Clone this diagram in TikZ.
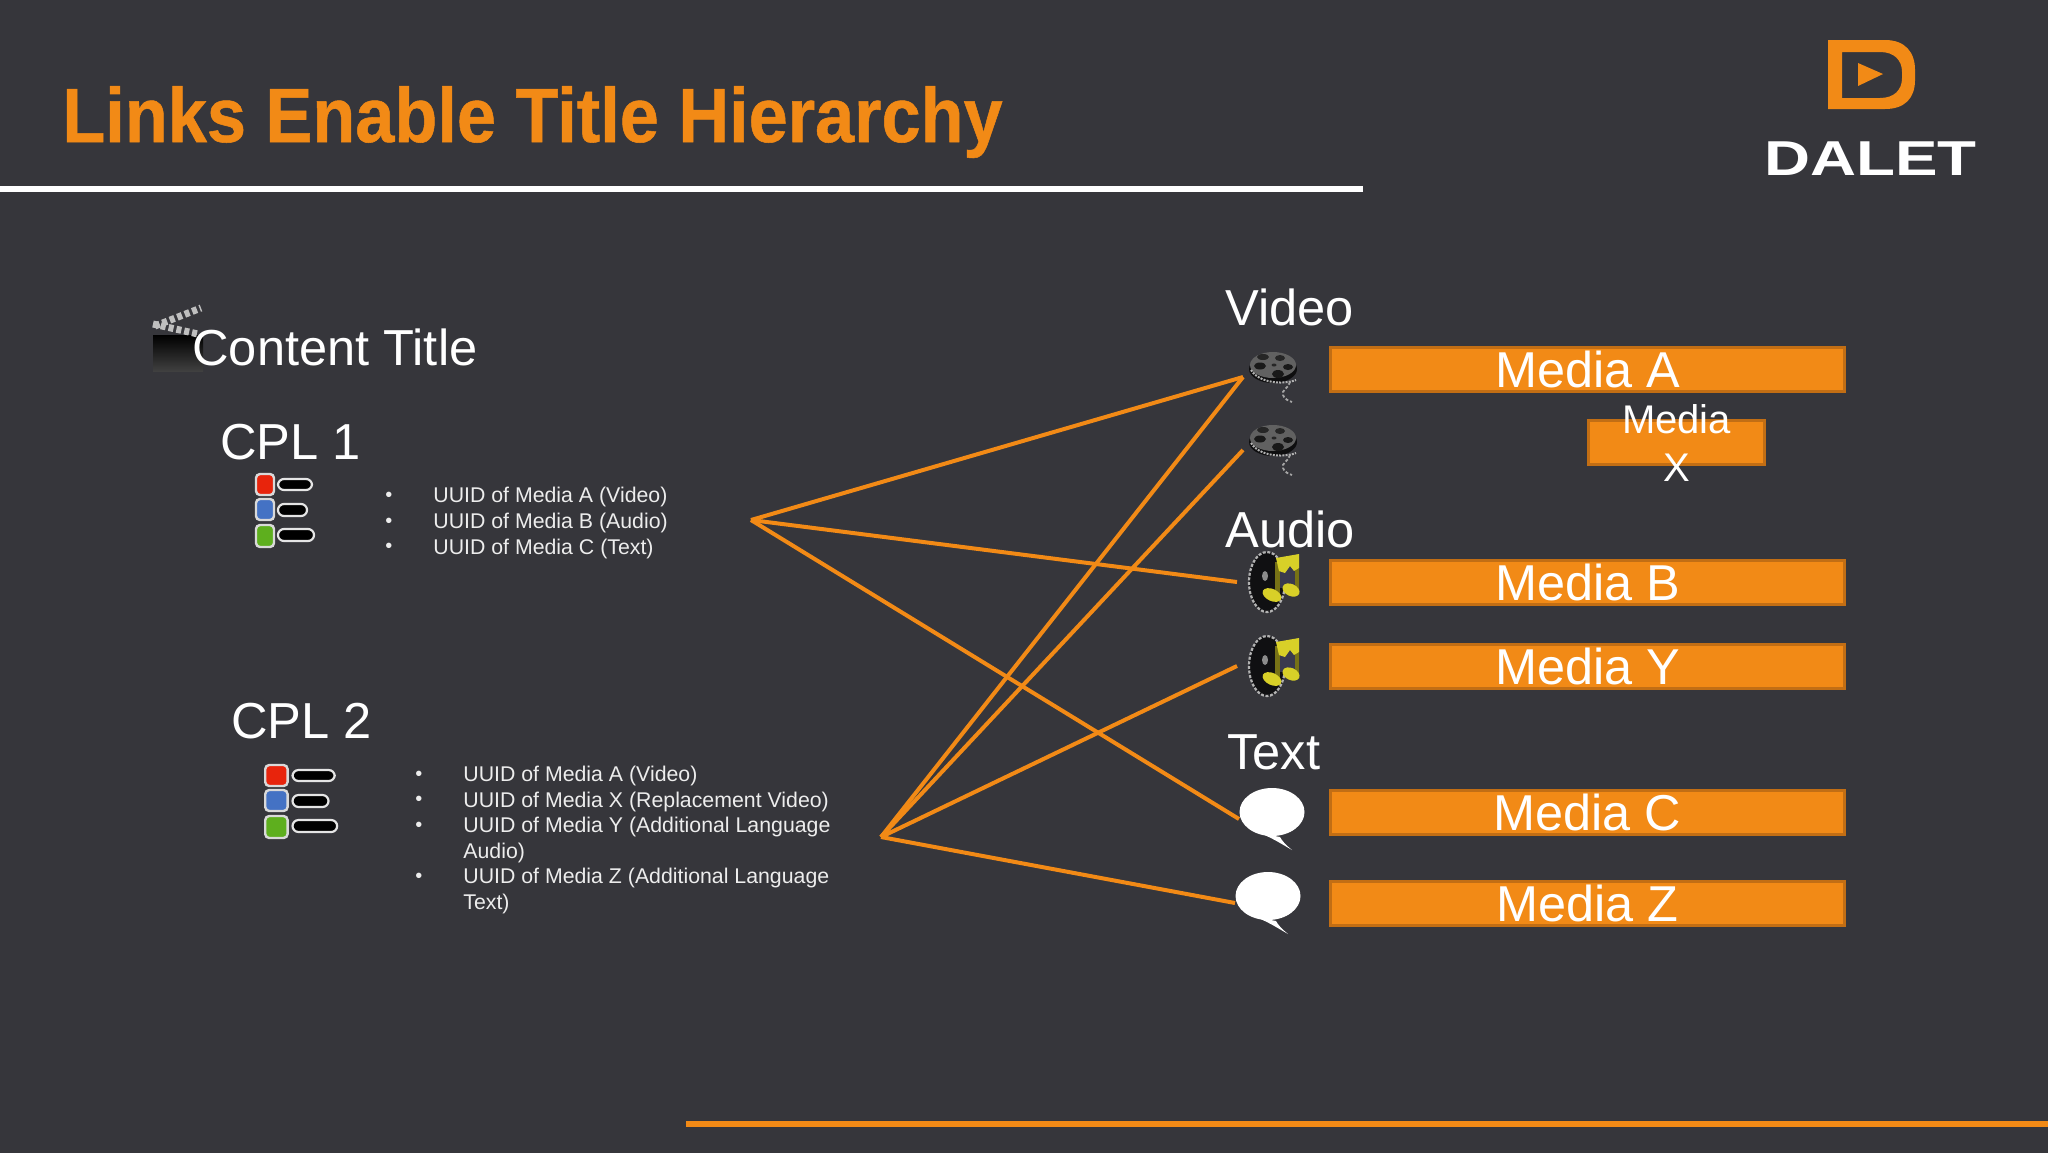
\documentclass[tikz,border=0pt]{standalone}
\usepackage{fontspec}
\setmainfont{Liberation Sans}
\newfontfamily\titlefont[FakeBold=0.7]{Liberation Sans Bold}
\usetikzlibrary{arrows.meta,positioning,shapes.geometric}
\definecolor{slidebg}{HTML}{36363B}
\definecolor{dalet}{HTML}{F28A16}
\definecolor{daletedge}{HTML}{C26E14}
\definecolor{noteyellow}{HTML}{D8D028}
\definecolor{noteink}{HTML}{3A3A4E}
\definecolor{listred}{HTML}{E8240C}
\definecolor{listblue}{HTML}{4472C4}
\definecolor{listgreen}{HTML}{5EAF1E}
\newcommand{\uuiditem}[1]{\makebox[24pt][l]{\raisebox{.6pt}{\fontsize{10}{10}\selectfont •}}#1}
\newcommand{\uuidmore}[1]{\makebox[24pt][l]{}#1}
\tikzset{
  mediabox/.style={rectangle, draw=daletedge, fill=dalet, line width=1.5pt, inner sep=0pt, outer sep=0pt, minimum width=257pt, minimum height=22pt},
  xbox/.style={mediabox, minimum width=88pt},
  medialabel/.style={text=white, align=center, inner sep=0pt, font=\fontsize{25.2}{25.2}\selectfont},
  xlabel/.style={text=white, align=center, inner sep=0pt, font=\fontsize{20}{24}\selectfont},
  heading/.style={anchor=base west, text=white, inner sep=0pt, font=\fontsize{25.3}{25.3}\selectfont},
  uuidlist/.style={anchor=west, text=white!93!black, align=left, inner sep=0pt, font=\fontsize{10.65}{12.8}\selectfont},
  iconbox/.style={rectangle, inner sep=0pt, outer sep=0pt, minimum height=10pt},
  link/.style={draw=dalet, line width=2pt},
  filmreel/.pic={
    \fill[black!75!slidebg] (2,-8) ellipse [x radius=24, y radius=14];
    \fill[black!62] (2,-12) ellipse [x radius=23, y radius=13];
    \draw[white!70!black, line width=1pt, dash pattern=on 1pt off .6pt] (-20,-7) .. controls (-12,6) and (12,8) .. (25,3);
    \fill[black!85] (-8,-20) ellipse [x radius=6, y radius=3];
    \fill[black!85] (9,-19) ellipse [x radius=5, y radius=3];
    \fill[black!90] (-11,-11) ellipse [x radius=6, y radius=3.5];
    \fill[black!90] (17,-10) ellipse [x radius=5, y radius=3];
    \fill[black!90] (7,-3) ellipse [x radius=6, y radius=4];
    \fill[black!85] (3,-12) ellipse [x radius=2.5, y radius=1.5];
    \draw[white!65!black, line width=.9pt, dash pattern=on 1.5pt off 1pt] (19,5) .. controls (18,11) and (10,13) .. (12,18) .. controls (13,22) and (18,24) .. (21,25);
  },
  musicnote/.pic={
    \draw[black!30, fill=black!70!slidebg, line width=1.1pt, dash pattern=on 1.5pt off .8pt] (-6,0) ellipse [x radius=18, y radius=30];
    \fill[black!45] (-8,-6) ellipse [x radius=3, y radius=5];
    \fill[noteink] (6,-18) rectangle (23,6);
    \fill[noteyellow!55!black] (2,-20) rectangle (7,14);
    \fill[noteyellow!55!black] (22,-20) rectangle (26,8);
    \fill[noteyellow] (3,-24) -- (26,-28) -- (26,-14) -- (21,-11) -- (17,-16) -- (12,-9) -- (6,-11) -- cycle;
    \fill[noteyellow, rotate around={-25:(-1,13)}] (-1,13) ellipse [x radius=10, y radius=6];
    \fill[noteyellow, rotate around={-25:(18,8)}] (18,8) ellipse [x radius=9, y radius=6];
  },
  speechballoon/.pic={
    \fill[white] (-12,14) .. controls (2,20) and (8,24) .. (20,31) .. controls (14,26) and (10,22) .. (8,18) -- cycle;
    \fill[white] (0,-7) ellipse [x radius=32.5, y radius=24];
  },
  cplicon/.pic={
    \draw[white!90!black, fill=black, rounded corners=3pt, line width=1.1pt] (23,6) rectangle (57,17);
    \draw[white!90!black, fill=black, rounded corners=3pt, line width=1.1pt] (23,31) rectangle (52,43);
    \draw[white!90!black, fill=black, rounded corners=3pt, line width=1.1pt] (23,56) rectangle (59,68);
    \draw[white!85!black, fill=listred, rounded corners=2pt, line width=1.2pt] (1,1) rectangle (19,22);
    \draw[white!85!black, fill=listblue, rounded corners=2pt, line width=1.2pt] (1,26) rectangle (19,47);
    \draw[white!85!black, fill=listgreen, rounded corners=2pt, line width=1.2pt] (1,52) rectangle (19,74);
  }
}
\begin{document}
\begin{tikzpicture}[x=0.5pt, y=-0.5pt]
  \useasboundingbox (0,0) rectangle (2048,1152);
  \fill[slidebg] (-5,-5) rectangle (2053,1157);
  \node[anchor=base west, text=dalet, inner sep=0pt, xscale=.913, transform shape, font=\fontsize{38.5}{38.5}\titlefont] (slidetitle) at (62,142) {Links Enable Title Hierarchy};
  \fill[white] (0,186) rectangle (1363,192);
  \fill[dalet] (686,1120.5) rectangle (2053,1126.5);
  % logo
  \fill[dalet, even odd rule] (1828,40) -- (1885,40) .. controls (1905,40) and (1915,52) .. (1915,70) -- (1915,80) .. controls (1915,98) and (1905,109) .. (1885,109) -- (1828,109) -- cycle
    (1842,52) -- (1880,52) .. controls (1894,52) and (1902,60) .. (1902,72) -- (1902,78) .. controls (1902,90) and (1894,98) .. (1880,98) -- (1842,98) -- cycle;
  \fill[dalet] (1858,63) -- (1883,74) -- (1858,86) -- cycle;
  \node[text=white, inner sep=0pt, xscale=1.3, transform shape, font=\fontsize{24.5}{24.5}\selectfont\bfseries] (daletname) at (1870.5,158.5) {DALET};
  % left side
  \shade[top color=black, bottom color=black!75] (153,335) rectangle (203,371);
  \draw[white!75!black, line width=3.5pt, dash pattern=on 2.5pt off 1.5pt] (155,326) -- (201,308);
  \draw[white!75!black, line width=3.5pt, dash pattern=on 2.5pt off 1.5pt] (153,324) -- (198,334);
  \node[heading] (contenttitle) at (192,365) {Content Title};
  \node[heading] (cplone) at (220,459) {CPL 1};
  \node[heading] (cpltwo) at (231,738) {CPL 2};
  \pic at (255,473) {cplicon};
  \pic[xscale=1.24] at (264,764) {cplicon};
  \node[uuidlist] (listone) at (385,523) {\uuiditem{UUID of Media A (Video)}\\\uuiditem{UUID of Media B (Audio)}\\\uuiditem{UUID of Media C (Text)}};
  \node[uuidlist] (listtwo) at (415,840) {\uuiditem{UUID of Media A (Video)}\\\uuiditem{UUID of Media X (Replacement Video)}\\\uuiditem{UUID of Media Y (Additional Language}\\\uuidmore{Audio)}\\\uuiditem{UUID of Media Z (Additional Language}\\\uuidmore{Text)}};
  \coordinate (linkone) at (751,520);
  \coordinate (linktwo) at (881,837);
  % right side
  \node[heading] (videohead) at (1225,325) {Video};
  \node[heading] (audiohead) at (1225,547) {Audio};
  \node[heading] (texthead) at (1227,769) {Text};
  \node[mediabox, medialabel] (mediaA) at (1587.5,369.5) {Media A};
  \node[mediabox, medialabel] (mediaB) at (1587.5,582) {Media B};
  \node[mediabox, medialabel] (mediaY) at (1587.5,666.5) {Media Y};
  \node[mediabox, medialabel] (mediaC) at (1587.5,812) {Media C};
  \node[mediabox, medialabel] (mediaZ) at (1587.5,903) {Media Z};
  \node[xbox] (mediaX) at (1676.5,442.5) {};
  \node[xlabel] (mediaXname) at (mediaX) {Media\\X};
  \node[iconbox, minimum width=28pt] (reelA) at (1271,377) {};
  \node[iconbox, minimum width=28pt] (reelB) at (1271,450) {};
  \node[iconbox, minimum width=36pt] (noteA) at (1273,582) {};
  \node[iconbox, minimum width=36pt] (noteB) at (1273,666) {};
  \node[iconbox, minimum width=33pt] (balloonA) at (1272,819) {};
  \node[iconbox, minimum width=33pt] (balloonB) at (1268,903) {};
  \pic at (reelA) {filmreel};
  \pic at (reelB) {filmreel};
  \pic at (noteA) {musicnote};
  \pic at (noteB) {musicnote};
  \pic at (balloonA) {speechballoon};
  \pic at (balloonB) {speechballoon};
  \draw[link] (linkone) -- (reelA.west);
  \draw[link] (linkone) -- (noteA.west);
  \draw[link] (linkone) -- (balloonA.west);
  \draw[link] (linktwo) -- (reelA.west);
  \draw[link] (linktwo) -- (reelB.west);
  \draw[link] (linktwo) -- (noteB.west);
  \draw[link] (linktwo) -- (balloonB.west);
\end{tikzpicture}
\end{document}
